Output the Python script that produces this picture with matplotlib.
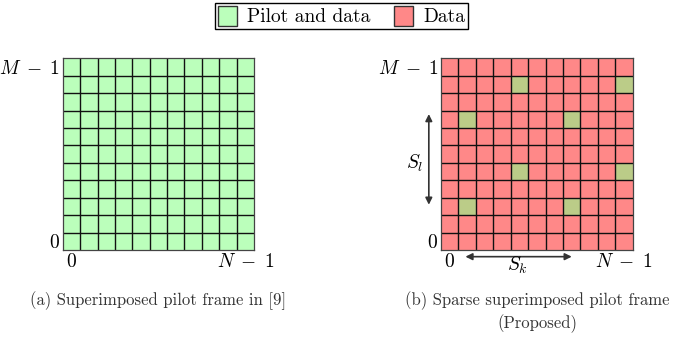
import matplotlib
matplotlib.use("Agg")
import matplotlib.pyplot as plt
import numpy as np
from matplotlib.colors import ListedColormap
from matplotlib.patches import Patch

plt.rcParams["font.family"] = "cmr10"
plt.rcParams["mathtext.fontset"] = "cm"
plt.rcParams["axes.formatter.use_mathtext"] = True

# frame size (delay x Doppler bins)
M = 11
N = 11

# sparse pilot positions (column k, row l) in the proposed frame
pilot_cols = [4, 10, 1, 7, 4, 10, 1, 7]
pilot_rows = [9, 9, 7, 7, 4, 4, 2, 2]

# arrow spans for the pilot spacings
sl_span = [2.6, 7.8]
sk_span = [1.4, 7.5]

x_ticklabels = ["$0$", r"$N\;-\;1$"]
y_ticklabels = ["$0$", r"$M\;-\;1$"]
captions = [
    "(a) Superimposed pilot frame in [9]",
    "(b) Sparse superimposed pilot frame\n(Proposed)",
]

green = "#bbffbb"
red = "#ff8888"
olive = "#bbcc88"
grid_col = "#111111"

fig = plt.figure(figsize=(6.76, 3.43), dpi=100)
ax_a = fig.add_axes([0.0928, 0.271, 0.283, 0.559])
ax_b = fig.add_axes([0.6524, 0.271, 0.2836, 0.559])

full = np.zeros((M, N))
sparse = np.zeros((M, N))
sparse[pilot_rows, pilot_cols] = 1

ax_a.pcolormesh(np.arange(N + 1), np.arange(M + 1), full,
                cmap=ListedColormap([green]))
ax_b.pcolormesh(np.arange(N + 1), np.arange(M + 1), sparse,
                cmap=ListedColormap([red, olive]), vmin=0, vmax=1)

for ax, cap in zip([ax_a, ax_b], captions):
    # cell borders
    ax.vlines(np.arange(1, N), 0, M, color=grid_col, lw=1.0)
    ax.hlines(np.arange(1, M), 0, N, color=grid_col, lw=1.0)
    ax.set_xlim(0, N)
    ax.set_ylim(0, M)
    ax.set_xticks([0.5, N - 0.5])
    ax.set_xticklabels(x_ticklabels)
    ax.set_yticks([0.5, M - 0.5])
    ax.set_yticklabels(y_ticklabels)
    ax.tick_params(length=0, labelsize=14, pad=2)
    for s in ax.spines.values():
        s.set_color("#444444")
        s.set_linewidth(0.9)
    ax.text(0.5, -0.215, cap, transform=ax.transAxes, ha="center", va="top",
            fontsize=12, color="#333333", linespacing=1.3)

# spacing arrows on the sparse frame
arrow = dict(arrowstyle="<|-|>", color="#333333", lw=1.2,
             mutation_scale=10, shrinkA=0, shrinkB=0)
ax_b.annotate("", xy=(-0.7, sl_span[0]), xytext=(-0.7, sl_span[1]),
              arrowprops=arrow, annotation_clip=False)
ax_b.annotate("", xy=(sk_span[0], -0.38), xytext=(sk_span[1], -0.38),
              arrowprops=arrow, annotation_clip=False)
ax_b.text(-1.5, 5.0, "$S_l$", fontsize=14, ha="center", va="center")
ax_b.text(4.36, -0.86, "$S_k$", fontsize=14, ha="center", va="center")

handles = [Patch(facecolor=green, edgecolor="#333333", label="Pilot and data"),
           Patch(facecolor=red, edgecolor="#333333", label="Data")]
leg = fig.legend(handles=handles, loc="upper center", bbox_to_anchor=(0.505, 0.992),
                 ncol=2, fancybox=False, framealpha=1, edgecolor="black",
                 prop={"family": "cmr10", "size": 14}, borderpad=0.15,
                 handlelength=1.0, handleheight=1.2, handletextpad=0.5,
                 columnspacing=1.2, borderaxespad=0)
leg.get_frame().set_linewidth(1.0)

fig.savefig("out.png", dpi=100)
